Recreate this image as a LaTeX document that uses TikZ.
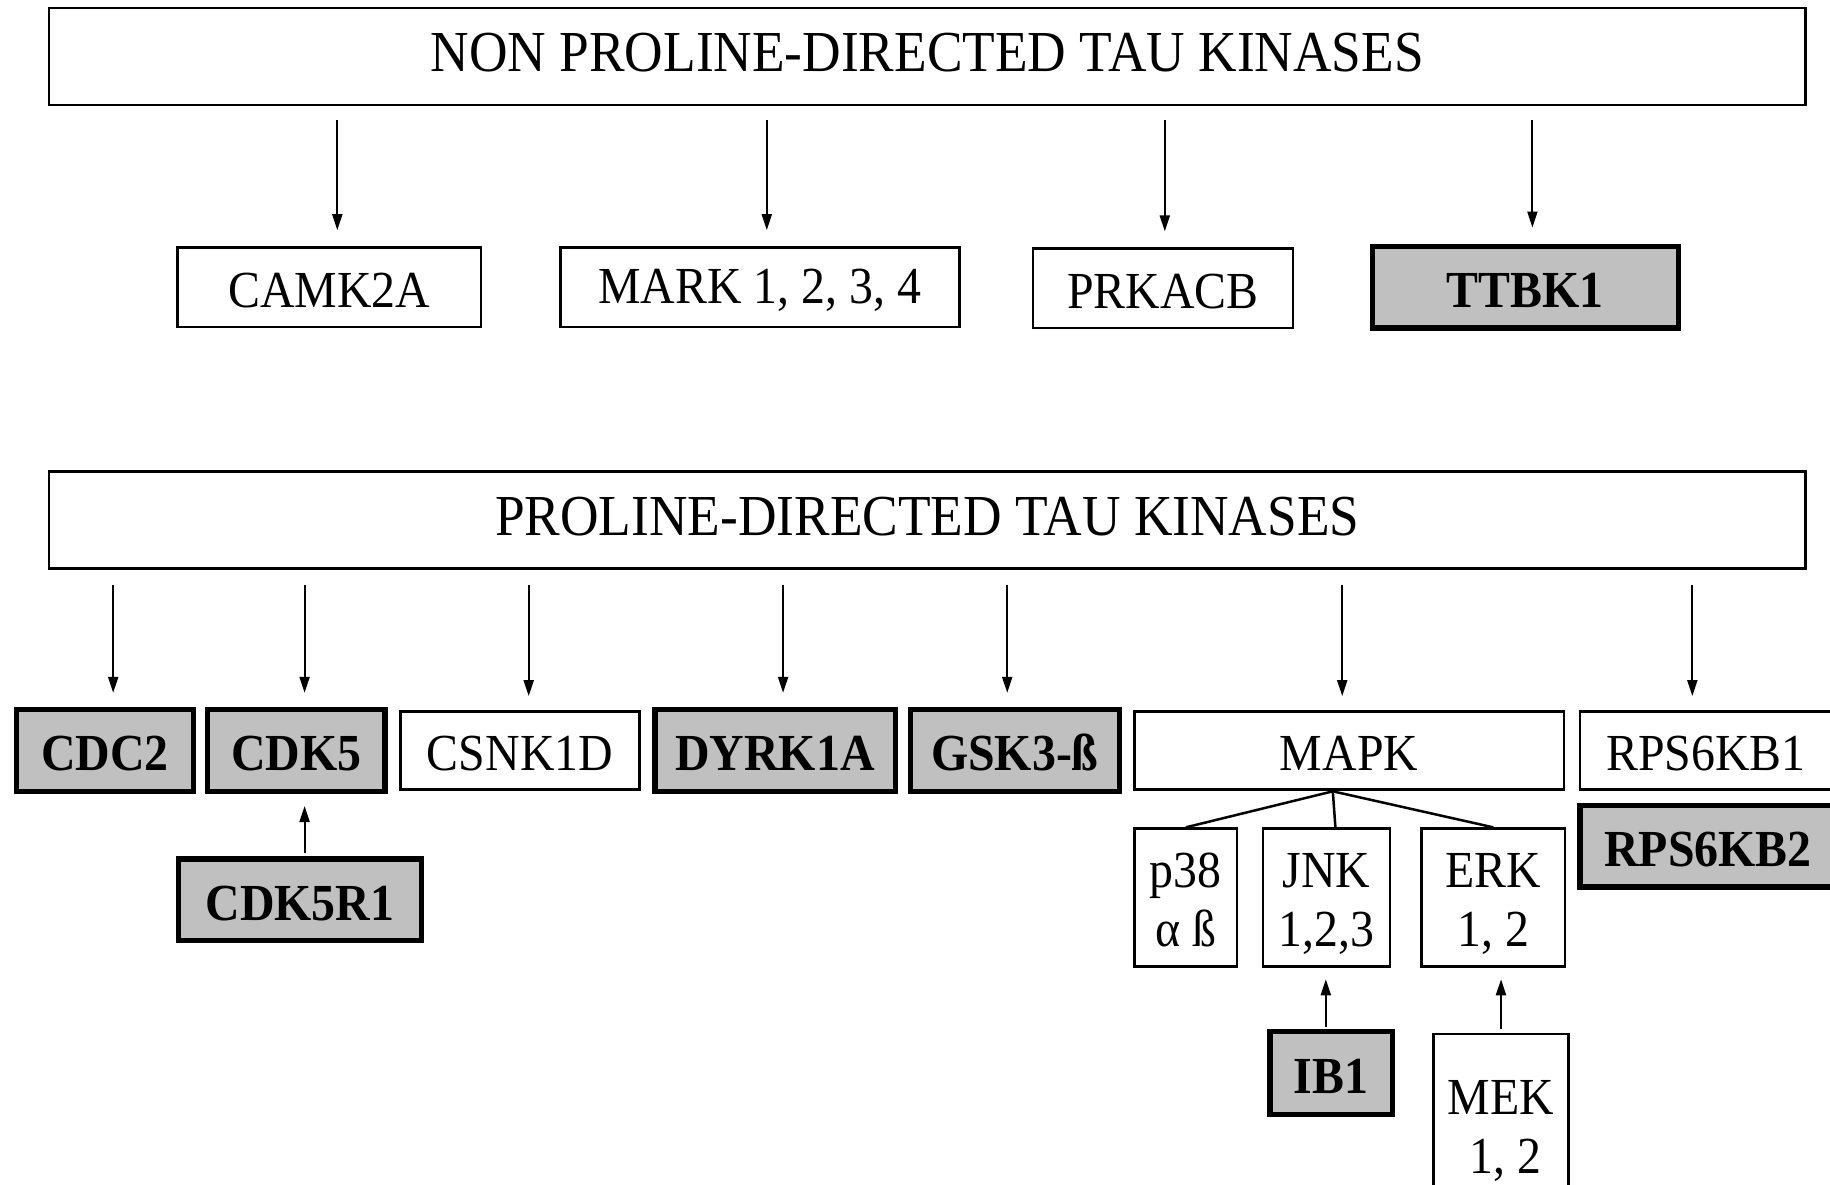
\documentclass[tikz,border=0pt]{standalone}
\usepackage{fontspec}
\setmainfont{Liberation Serif}[FakeStretch=0.92]
\usetikzlibrary{arrows.meta}
\definecolor{kgray}{RGB}{192,192,192}
\begin{document}
\begin{tikzpicture}[x=1pt,y=-1pt,
  box/.style={draw, line width=2.5pt, inner sep=0pt, align=center, text height=41pt,
    font=\fontsize{52}{59}\selectfont},
  kbox/.style={box, line width=5.5pt, fill=kgray, font=\fontsize{52}{59}\selectfont\bfseries},
  two/.style={text height=97pt, text depth=0pt},
  head/.style={draw, line width=2.5pt, inner sep=0pt, minimum width=1756.5pt, minimum height=96.8pt,
    text depth=8pt, font=\fontsize{58}{62}\selectfont},
  arr/.style={line width=2pt, -{Triangle[length=16pt,width=10pt]}},
  link/.style={line width=2.5pt}
]
\useasboundingbox (0,0) rectangle (1830,1184);
\clip (0,0) rectangle (1830,1184);
\fill[white] (0,0) rectangle (1830,1184);

% ---- Non proline-directed ----
\node[head] (top) at (927.3,56.6) {NON PROLINE-DIRECTED TAU KINASES};
\node[box, minimum width=303.4pt, minimum height=79.4pt] (camk) at (329.1,287.1) {CAMK2A};
\node[box, minimum width=399.1pt, minimum height=79.4pt] (mark) at (759.8,287.1) {MARK 1, 2, 3, 4};
\node[box, minimum width=260.3pt, minimum height=79.4pt] (prk) at (1163,288.3) {PRKACB};
\node[kbox, minimum width=305.8pt, minimum height=81.7pt] (ttbk) at (1525.4,287.1) {TTBK1};

\coordinate (a1) at (337.3,0);
\coordinate (a2) at (766.8,0);
\coordinate (a3) at (1164.8,0);
\coordinate (a4) at (1532.4,0);
\draw[arr, shorten <=14pt, shorten >=16pt] (top.south -| a1) -- (camk.north -| a1);
\draw[arr, shorten <=14pt, shorten >=16pt] (top.south -| a2) -- (mark.north -| a2);
\draw[arr, shorten <=14pt, shorten >=16pt] (top.south -| a3) -- (prk.north -| a3);
\draw[arr, shorten <=14pt, shorten >=16pt] (top.south -| a4) -- (ttbk.north -| a4);

% ---- Proline-directed ----
\node[head] (pro) at (927.3,520) {PROLINE-DIRECTED TAU KINASES};
\node[kbox, minimum width=177.4pt, minimum height=81.7pt] (cdc2) at (105,750.4) {CDC2};
\node[kbox, minimum width=177.4pt, minimum height=81.7pt] (cdk5) at (296.4,750.4) {CDK5};
\node[box, minimum width=239.3pt, minimum height=78.2pt] (csnk) at (520,750.4) {CSNK1D};
\node[kbox, minimum width=240.5pt, minimum height=81.7pt] (dyrk) at (775,750.4) {DYRK1A};
\node[kbox, minimum width=209pt, minimum height=81.7pt] (gsk) at (1014.8,750.4) {GSK3-ß};
\node[box, minimum width=429.5pt, minimum height=78.2pt] (mapk) at (1349.1,750.4) {MAPK};
\node[box, minimum width=252pt, minimum height=78.2pt] (rps1) at (1706,750.4) {RPS6KB1};
\node[kbox, minimum width=256pt, minimum height=81.7pt] (rps2) at (1708,846.2) {RPS6KB2};

\coordinate (b1) at (113.2,0);
\coordinate (b2) at (304.6,0);
\coordinate (b3) at (528.7,0);
\coordinate (b4) at (783.1,0);
\coordinate (b5) at (1007.2,0);
\coordinate (b6) at (1342.2,0);
\coordinate (b7) at (1692.3,0);
\foreach \c/\n in {b1/cdc2,b2/cdk5,b3/csnk,b4/dyrk,b5/gsk,b6/mapk,b7/rps1}{
  \draw[arr, shorten <=15pt, shorten >=14pt] (pro.south -| \c) -- (\n.north -| \c);
}

% CDK5R1
\node[kbox, minimum width=242.7pt, minimum height=81.7pt] (cdk5r1) at (300,899.8) {CDK5R1};
\draw[arr, shorten <=3.5pt, shorten >=12pt] (cdk5r1.north -| b2) -- (cdk5.south -| b2);

% MAPK children
\node[box, two, minimum width=102.7pt, minimum height=137.8pt] (p38) at (1185.8,897.5) {p38\\α ß};
\node[box, two, minimum width=127.2pt, minimum height=137.8pt] (jnk) at (1326.4,897.5) {JNK\\1,2,3};
\node[box, two, minimum width=143.5pt, minimum height=137.8pt] (erk) at (1493.3,897.5) {ERK\\1, 2};
\coordinate (hub) at (1332.8,791.3);
\draw[link] (hub) -- (p38.north);
\draw[link] (hub) -- ([xshift=9pt]jnk.north);
\draw[link] (hub) -- (erk.north);

\node[kbox, minimum width=122.5pt, minimum height=83pt] (ib1) at (1331,1073.2) {IB1};
\node[box, text height=92pt, text depth=0pt, minimum width=135.4pt, minimum height=186pt] (mek) at (1501,1127) {MEK\\\,1, 2};
\coordinate (c1) at (1325.8,0);
\coordinate (c2) at (1501,0);
\draw[arr, shorten <=2.3pt, shorten >=11.6pt] (ib1.north -| c1) -- (jnk.south -| c1);
\draw[arr, shorten <=3.4pt, shorten >=11.6pt] (mek.north -| c2) -- (erk.south -| c2);
\end{tikzpicture}
\end{document}
